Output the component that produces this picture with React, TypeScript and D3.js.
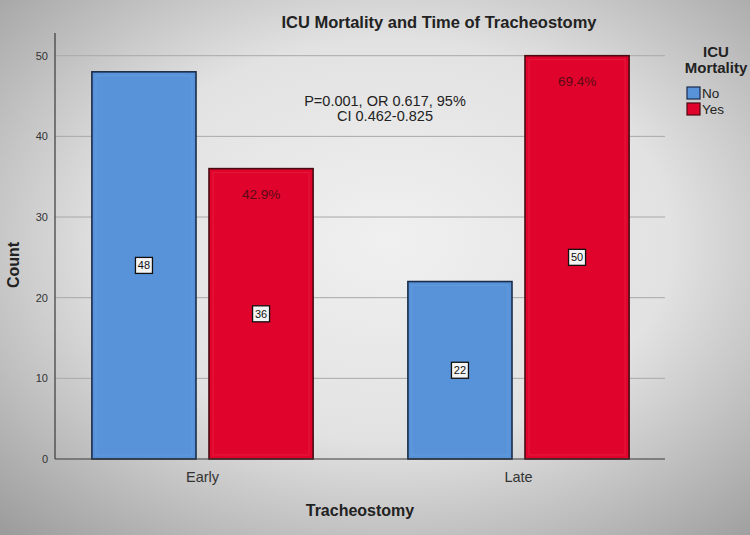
import React from "react";
import * as d3 from "d3";

const categories = ["Early", "Late"];
const groups = ["No", "Yes"];
const countsNo = [48, 22];
const countsYes = [36, 50];
const percentYes = ["42.9%", "69.4%"];
const yTicks = [0, 10, 20, 30, 40, 50];
const annotation = ["P=0.001, OR 0.617, 95%", "CI 0.462-0.825"];

const W = 750;
const H = 535;
const FONT = "'Liberation Sans', Arial, sans-serif";
const colors: Record<string, string> = { No: "#5892d8", Yes: "#e0032c" };
const strokes: Record<string, string> = { No: "#1b2c4a", Yes: "#4a0a12" };

export default function App() {
  const x0 = d3.scaleBand<string>().domain(categories).range([44.5, 676.5]).paddingInner(0.3).paddingOuter(0.15);
  const x1 = d3.scaleBand<string>().domain(groups).range([0, x0.bandwidth()]).paddingInner(0.111);
  const y = d3.scaleLinear().domain([0, 50]).range([459, 55.7]);

  const data = categories.flatMap((c, i) => [
    { cat: c, grp: "No", v: countsNo[i], pct: null as string | null },
    { cat: c, grp: "Yes", v: countsYes[i], pct: percentYes[i] },
  ]);

  const plotL = 55;
  const plotR = 665;

  return (
    <svg width={W} height={H} style={{ position: "absolute", left: 0, top: 0 }} fontFamily={FONT}>
      <defs>
        <radialGradient id="bg" cx="0.52" cy="0.45" r="0.75">
          <stop offset="0" stopColor="#f0f0f0" />
          <stop offset="0.5" stopColor="#e2e2e2" />
          <stop offset="1" stopColor="#9c9c9c" />
        </radialGradient>
      </defs>
      <rect x={0} y={0} width={W} height={H} fill="url(#bg)" />

      {/* grid */}
      {yTicks.filter((t) => t > 0).map((t) => (
        <line key={t} x1={plotL} x2={plotR} y1={y(t)} y2={y(t)} stroke="#a9a9a9" strokeWidth={1} />
      ))}

      {/* bars */}
      {data.map((d) => {
        const bx = (x0(d.cat) as number) + (x1(d.grp) as number);
        const bw = x1.bandwidth();
        const by = y(d.v);
        const bh = y(0) - by;
        return (
          <g key={d.cat + d.grp}>
            <rect x={bx} y={by} width={bw} height={bh} fill={colors[d.grp]} stroke={strokes[d.grp]} strokeWidth={1.6} />
            <rect x={bx + 4} y={by + 4} width={bw - 8} height={bh - 8} fill="none" stroke={d.grp === "No" ? "#6aa2e2" : "#ea2a48"} strokeWidth={1} opacity={0.6} />
            <rect x={bx + bw / 2 - 8.5} y={y(d.v / 2) - 8} width={17} height={16} fill="#f4f4f4" stroke="#111" strokeWidth={1.3} />
            <text x={bx + bw / 2} y={y(d.v / 2) + 4} textAnchor="middle" fontSize={11} fill="#111">{d.v}</text>
            {d.pct && (
              <text x={bx + bw / 2} y={by + 30} textAnchor="middle" fontSize={13.5} fill="#5a0a14">{d.pct}</text>
            )}
          </g>
        );
      })}

      {/* axes */}
      <line x1={plotL} x2={plotL} y1={33} y2={y(0)} stroke="#3a3a3a" strokeWidth={1.2} />
      <line x1={plotL} x2={plotR} y1={y(0)} y2={y(0)} stroke="#3a3a3a" strokeWidth={1.2} />
      {yTicks.map((t) => (
        <text key={t} x={48} y={y(t) + 4} textAnchor="end" fontSize={11} fill="#333">{t}</text>
      ))}
      {categories.map((c) => (
        <text key={c} x={(x0(c) as number) + x0.bandwidth() / 2} y={482} textAnchor="middle" fontSize={14.5} fill="#333">{c}</text>
      ))}

      {/* axis titles */}
      <text x={360} y={516} textAnchor="middle" fontSize={16} fontWeight="bold" fill="#222">Tracheostomy</text>
      <text transform="translate(19,265) rotate(-90)" textAnchor="middle" fontSize={16} fontWeight="bold" fill="#222">Count</text>

      {/* title */}
      <text x={439} y={28} textAnchor="middle" fontSize={16.5} fontWeight="bold" fill="#222">ICU Mortality and Time of Tracheostomy</text>

      {/* annotation */}
      {annotation.map((a, i) => (
        <text key={i} x={385} y={106 + i * 15} textAnchor="middle" fontSize={14.5} fill="#222">{a}</text>
      ))}

      {/* legend */}
      <text x={716} y={57} textAnchor="middle" fontSize={15} fontWeight="bold" fill="#222">ICU</text>
      <text x={716} y={73} textAnchor="middle" fontSize={15} fontWeight="bold" fill="#222">Mortality</text>
      {groups.map((g, i) => (
        <g key={g}>
          <rect x={687} y={87 + i * 16} width={13} height={12} fill={colors[g]} stroke={strokes[g]} strokeWidth={1.2} />
          <text x={702} y={98 + i * 16} fontSize={13.5} fill="#222">{g}</text>
        </g>
      ))}
    </svg>
  );
}
